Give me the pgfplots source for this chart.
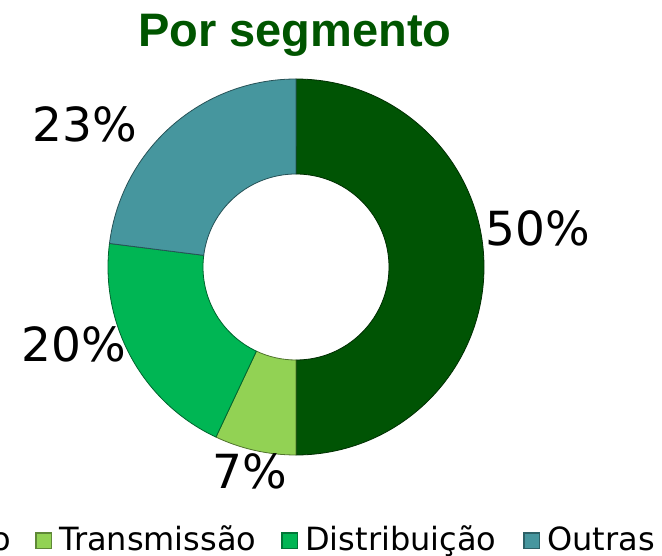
\documentclass[border=0pt]{standalone}
\usepackage{pgfplots}
\pgfplotsset{compat=1.18}
\usepackage{pgfplotstable}
\usepackage{fontspec}
\setmainfont{DejaVu Sans}
\newfontfamily\titlefont{Liberation Sans}
\definecolor{cGer}{RGB}{0,84,4}
\definecolor{cTra}{RGB}{146,210,84}
\definecolor{cDis}{RGB}{0,182,84}
\definecolor{cOut}{RGB}{70,150,158}
\definecolor{cTitle}{RGB}{0,85,0}
\newcommand\labelfont{\fontsize{47bp}{52bp}\selectfont}
\newcommand\legfont{\fontsize{32bp}{36bp}\selectfont}
\newcommand\legbox[1]{\textcolor{#1!65!black}{\rule[1bp]{17bp}{17bp}}\hspace{-15.5bp}\textcolor{#1}{\rule[2.5bp]{14bp}{14bp}}\hspace{1.5bp}}

\pgfplotstableread{
name value col lx ly
Geração 50 cGer 538 311
Transmissão 7 cTra 250 68
Distribuição 20 cDis 74 195
Outras 23 cOut 85 414
}\segdata

\begin{document}
\begin{tikzpicture}
\begin{axis}[x=1bp, y=1bp, xmin=0, xmax=662, ymin=0, ymax=556,
  hide axis, clip=false, at={(0,0)}, anchor=south west]
\def\cum{0}
\pgfplotsforeachungrouped \i in {0,...,3}{%
  \pgfplotstablegetelem{\i}{value}\of\segdata \let\v\pgfplotsretval
  \pgfplotstablegetelem{\i}{col}\of\segdata \let\c\pgfplotsretval
  \pgfmathsetmacro\aS{90-3.6*\cum}%
  \pgfmathsetmacro\aE{90-3.6*(\cum+\v)}%
  \pgfmathsetmacro\cum{\cum+\v}%
  \pgfmathsetmacro\xa{296+188*cos(\aS)}%
  \pgfmathsetmacro\ya{289+188*sin(\aS)}%
  \pgfmathsetmacro\xb{296+93*cos(\aE)}%
  \pgfmathsetmacro\yb{289+93*sin(\aE)}%
  \edef\temp{\noexpand\fill[fill=\c, draw=\c!55!black, line width=0.8bp, line join=round]
    (axis cs:\xa,\ya) arc[start angle=\aS, end angle=\aE, radius=188bp]
    -- (axis cs:\xb,\yb) arc[start angle=\aE, end angle=\aS, radius=93bp] -- cycle;}%
  \temp
}
\pgfplotsforeachungrouped \i in {0,...,3}{%
  \pgfplotstablegetelem{\i}{value}\of\segdata \let\v\pgfplotsretval
  \pgfplotstablegetelem{\i}{lx}\of\segdata \let\lx\pgfplotsretval
  \pgfplotstablegetelem{\i}{ly}\of\segdata \let\ly\pgfplotsretval
  \edef\temp{\noexpand\node[anchor=base, inner sep=0pt, font=\noexpand\labelfont]
    at (axis cs:\lx,\ly) {\v\noexpand\%};}%
  \temp
}
\node[anchor=base, inner sep=0pt, text=cTitle,
  font=\titlefont\bfseries\fontsize{47bp}{50bp}\selectfont]
  at (axis cs:295,509) {Por segmento};
\node[anchor=base east, inner sep=0pt, font=\legfont] at (axis cs:11,6)
  {\legbox{cGer}\hspace{7bp}Geração};
\node[anchor=base west, inner sep=0pt, font=\legfont] at (axis cs:35,6)
  {\legbox{cTra}\hspace{7bp}Transmissão\hspace{25bp}\legbox{cDis}\hspace{7bp}Distribuição\hspace{27bp}\legbox{cOut}\hspace{7bp}Outras};
\end{axis}
\pgfresetboundingbox
\path[use as bounding box] (0,0) rectangle (662bp,556bp);
\end{tikzpicture}
\end{document}
